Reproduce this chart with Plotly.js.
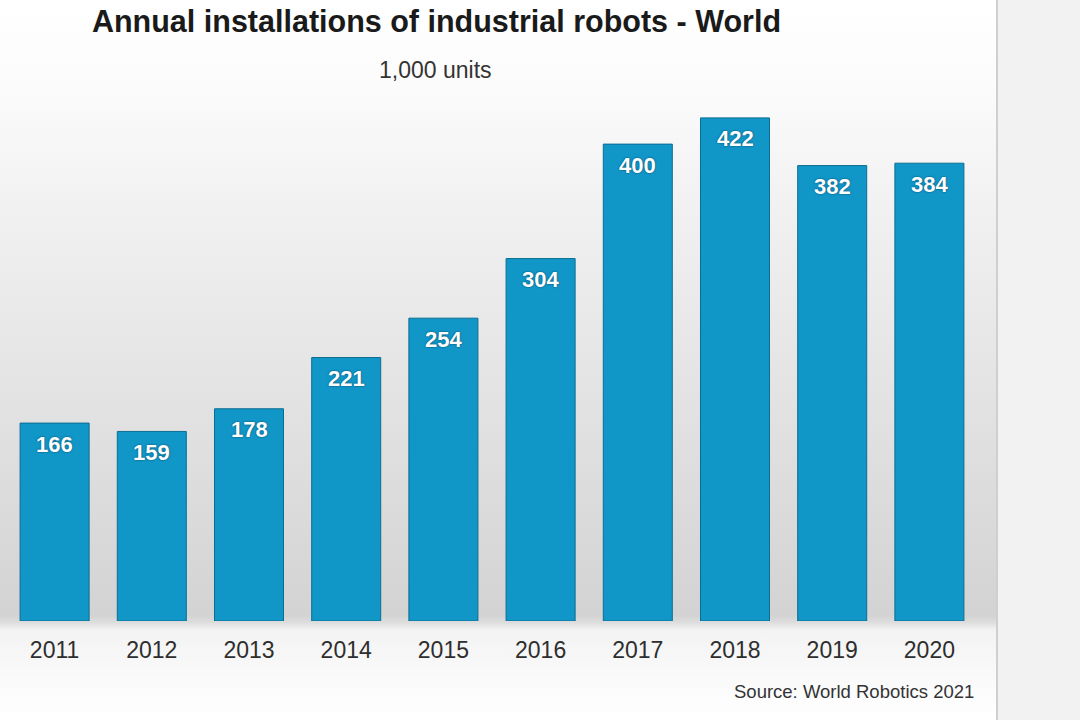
<!DOCTYPE html>
<html>
<head>
<meta charset="utf-8">
<script src="https://cdn.plot.ly/plotly-3.0.1.min.js"></script>
<style>
  html, body { margin:0; padding:0; width:1080px; height:720px; overflow:hidden; background:#ffffff; }
  #bg { position:absolute; left:0; top:0; width:996px; height:720px;
        background: linear-gradient(to bottom, #ffffff 0px, #fbfbfb 90px, #f0f0f0 220px, #e4e4e4 380px, #dadada 520px, #d3d3d3 615px, #dcdcdc 622px, #f3f3f3 630px, #fafafa 680px, #ffffff 720px); }
  #side { position:absolute; left:996px; top:0; width:84px; height:720px; background:#f2f2f2; border-left:2px solid #cfcfcf; box-sizing:border-box; }
  #chart { position:absolute; left:0; top:0; width:1080px; height:720px; }
</style>
</head>
<body>
<div id="bg"></div>
<div id="side"></div>
<div id="chart"></div>
<script>
const years = ["2011","2012","2013","2014","2015","2016","2017","2018","2019","2020"];
const installations = [166, 159, 178, 221, 254, 304, 400, 422, 382, 384];
const chartTitle = "Annual installations of industrial robots - World";
const unitLabel = "1,000 units";
const sourceLabel = "Source: World Robotics 2021";

const FONT = "Liberation Sans, Arial, Helvetica, sans-serif";

const trace = {
  type: "bar",
  x: years,
  y: installations,
  marker: { color: "#1196c8", line: { color: "#0c6d92", width: 1 } },
  hoverinfo: "x+y"
};

const valueAnnotations = years.map((yr, i) => ({
  x: i, y: installations[i], xref: "x", yref: "y",
  text: String(installations[i]), showarrow: false,
  yanchor: "middle", yshift: -21,
  font: { family: FONT, size: 22, color: "#ffffff", weight: 700, shadow: "0px 0px 2px #03425e" }
}));

const layout = {
  width: 1080, height: 720,
  margin: { l: 6, r: 102, t: 100, b: 99 },
  paper_bgcolor: "rgba(0,0,0,0)",
  plot_bgcolor: "rgba(0,0,0,0)",
  bargap: 0.29,
  showlegend: false,
  title: {
    text: chartTitle,
    font: { family: FONT, size: 30.5, color: "#1a1a1a", weight: 700 },
    x: 436.5 / 1080, xanchor: "center", xref: "container",
    y: 1 - 21 / 720, yanchor: "middle", yref: "container"
  },
  xaxis: {
    type: "category",
    range: [-0.5, 9.5],
    showgrid: false, zeroline: false, showline: false,
    ticks: "", ticklabelstandoff: 13,
    tickfont: { family: FONT, size: 23, color: "#2e2e2e" },
    fixedrange: true
  },
  yaxis: {
    range: [0, 437],
    visible: false, showgrid: false, zeroline: false,
    fixedrange: true
  },
  annotations: valueAnnotations.concat([
    {
      text: unitLabel, xref: "paper", yref: "paper",
      x: (435 - 6) / 972, y: 1 + (100 - 70) / 521,
      xanchor: "center", yanchor: "middle", showarrow: false,
      font: { family: FONT, size: 23, color: "#333333" }
    },
    {
      text: sourceLabel, xref: "paper", yref: "paper",
      x: (976 - 6) / 972, y: -(691 - 621) / 521,
      xanchor: "right", yanchor: "middle", showarrow: false,
      font: { family: FONT, size: 18.5, color: "#333333" }
    }
  ])
};

Plotly.newPlot("chart", [trace], layout, { displayModeBar: false });
</script>
</body>
</html>
